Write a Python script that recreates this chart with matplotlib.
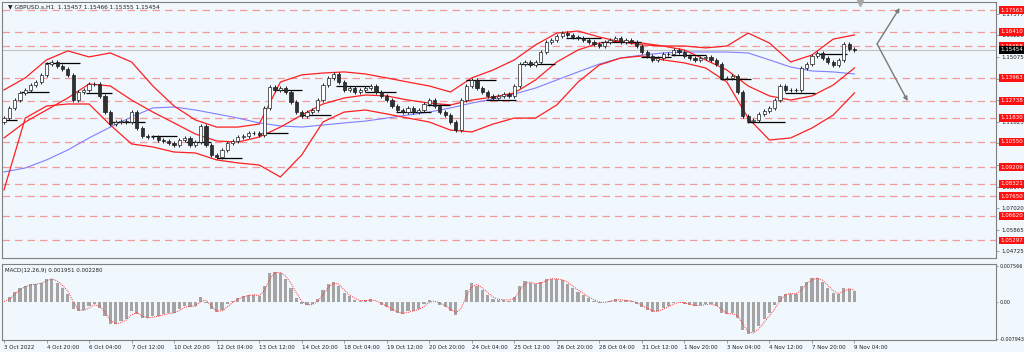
import numpy as np
import pandas as pd
import matplotlib
matplotlib.use("Agg")
import matplotlib.pyplot as plt
import matplotlib.transforms as mtransforms

plt.rcParams['font.family'] = ['DejaVu Sans']

# ---------------- data ----------------
symbol_title = "\u25bc GBPUSD.s,H1  1.15457 1.15466 1.15355 1.15454"
macd_title = "MACD(12,26,9) 0.001951 0.002280"

# 4-hour sampled closes (bar k sits at hour index 4*k)
closes = [
    1.1182, 1.1236, 1.1278, 1.1316, 1.1332, 1.1358, 1.1374, 1.1412, 1.1470, 1.1481,
    1.1460, 1.1444, 1.1412, 1.1278, 1.1321, 1.1332, 1.1364, 1.1364, 1.1300, 1.1214,
    1.1150, 1.1161, 1.1166, 1.1161, 1.1214, 1.1129, 1.1086, 1.1081, 1.1081, 1.1065,
    1.1060, 1.1049, 1.1038, 1.1065, 1.1076, 1.1038, 1.1054, 1.1140, 1.1038, 1.0985,
    1.0974, 1.1012, 1.1049, 1.1060, 1.1081, 1.1086, 1.1102, 1.1102, 1.1092, 1.1236,
    1.1348, 1.1332, 1.1342, 1.1321, 1.1268, 1.1214, 1.1193, 1.1214, 1.1225, 1.1278,
    1.1358, 1.1396, 1.1417, 1.1374, 1.1332, 1.1342, 1.1321, 1.1332, 1.1342, 1.1353,
    1.1321, 1.1300, 1.1278, 1.1246, 1.1225, 1.1214, 1.1236, 1.1214, 1.1225, 1.1257,
    1.1278, 1.1246, 1.1214, 1.1198, 1.1161, 1.1118, 1.1278, 1.1353, 1.1385, 1.1342,
    1.1321, 1.1300, 1.1289, 1.1300, 1.1310, 1.1300, 1.1353, 1.1470, 1.1481, 1.1465,
    1.1481, 1.1534, 1.1588, 1.1598, 1.1619, 1.1635, 1.1625, 1.1614, 1.1609, 1.1598,
    1.1588, 1.1577, 1.1566, 1.1588, 1.1598, 1.1609, 1.1588, 1.1598, 1.1588, 1.1566,
    1.1534, 1.1513, 1.1492, 1.1502, 1.1524, 1.1524, 1.1545, 1.1534, 1.1513, 1.1502,
    1.1492, 1.1502, 1.1508, 1.1492, 1.1470, 1.1396, 1.1396, 1.1406, 1.1321, 1.1193,
    1.1166, 1.1172, 1.1204, 1.1220, 1.1236, 1.1278, 1.1353, 1.1332, 1.1332, 1.1332,
    1.1449, 1.1470, 1.1513, 1.1529, 1.1502, 1.1481, 1.1465, 1.1492, 1.1577, 1.1550,
    1.1545,
]
first_open = 1.1160

band_hours = list(range(0, 641, 16))
upper_band = [
    1.1332, 1.1396, 1.1492, 1.1540, 1.1508, 1.1529, 1.1481, 1.1353, 1.1246, 1.1172,
    1.1134, 1.1134, 1.1150, 1.1374, 1.1412, 1.1422, 1.1428, 1.1417, 1.1396, 1.1374,
    1.1353, 1.1321, 1.1396, 1.1438, 1.1492, 1.1572, 1.1635, 1.1646, 1.1614, 1.1588,
    1.1572, 1.1566, 1.1566, 1.1556, 1.1566, 1.1635, 1.1582, 1.1481, 1.1518, 1.1603,
    1.1625,
]
middle_line = [
    1.1076, 1.1161, 1.1225, 1.1289, 1.1364, 1.1353, 1.1278, 1.1214, 1.1156, 1.1097,
    1.1060, 1.1054, 1.1081, 1.1134, 1.1198, 1.1257, 1.1289, 1.1305, 1.1300, 1.1278,
    1.1262, 1.1252, 1.1278, 1.1294, 1.1316, 1.1385, 1.1481, 1.1545, 1.1582, 1.1593,
    1.1582, 1.1566, 1.1545, 1.1492, 1.1438, 1.1353, 1.1300, 1.1278, 1.1300, 1.1358,
    1.1449,
]
lower_band = [
    1.0799, 1.1182, 1.1246, 1.1257, 1.1257, 1.1145, 1.1044, 1.1028, 1.1001, 1.0996,
    1.0959, 1.0943, 1.0932, 1.0868, 1.0985, 1.1161, 1.1214, 1.1225, 1.1204, 1.1182,
    1.1161, 1.1118, 1.1108, 1.1150, 1.1182, 1.1182, 1.1252, 1.1374, 1.1465, 1.1502,
    1.1513, 1.1492, 1.1476, 1.1449, 1.1374, 1.1182, 1.1065, 1.1076, 1.1129, 1.1198,
    1.1316,
]
slow_ma = [
    1.0895, 1.0916, 1.0959, 1.1012, 1.1076, 1.1134, 1.1188, 1.1236, 1.1241, 1.1225,
    1.1204, 1.1182, 1.1156, 1.1140, 1.1134, 1.1145, 1.1156, 1.1166, 1.1182, 1.1198,
    1.1214, 1.1236, 1.1262, 1.1284, 1.1310, 1.1342, 1.1385, 1.1428, 1.1470, 1.1502,
    1.1518, 1.1529, 1.1534, 1.1534, 1.1534, 1.1529, 1.1492, 1.1454, 1.1433, 1.1428,
    1.1417,
]

# short horizontal black level segments: (start hour, end hour, price)
seg_start = [-1, 13, 31, 62, 81, 111, 137, 160, 194, 203, 224, 250, 272, 295, 318,
             348, 363, 389, 423, 449, 479, 502, 539, 559, 588, 610]
seg_end = [10, 34, 57, 81, 106, 130, 156, 179, 214, 224, 246, 276, 295, 321, 336,
           370, 385, 415, 449, 479, 502, 528, 562, 588, 610, 634]
seg_price = [1.1172, 1.1321, 1.1476, 1.1316, 1.1161, 1.1086, 1.1054, 1.0969, 1.1102,
             1.1332, 1.1198, 1.1353, 1.1321, 1.1214, 1.1252, 1.1385, 1.1278, 1.1470,
             1.1609, 1.1588, 1.1508, 1.1518, 1.1390, 1.1161, 1.1316, 1.1524]

# red dashed levels
red_levels = [1.17563, 1.16410, 1.15658, 1.13963, 1.12738, 1.11830, 1.10550,
              1.09209, 1.08321, 1.07650, 1.06620, 1.05297]
bid_price = 1.15454

price_ticks = [1.17377, 1.16226, 1.15075, 1.13924, 1.12774, 1.11623, 1.10473,
               1.09322, 1.08171, 1.07020, 1.05865, 1.04725]
macd_ticks = [0.007566, 0.0, -0.007943]
macd_tick_labels = ["0.007566", "0.00", "-0.007943"]

time_labels = ["3 Oct 2022", "4 Oct 20:00", "6 Oct 04:00", "7 Oct 12:00", "10 Oct 20:00",
               "12 Oct 04:00", "13 Oct 12:00", "14 Oct 20:00", "18 Oct 04:00",
               "19 Oct 12:00", "20 Oct 20:00", "24 Oct 04:00", "25 Oct 12:00",
               "26 Oct 20:00", "28 Oct 04:00", "31 Oct 12:00", "1 Nov 20:00",
               "3 Nov 04:00", "4 Nov 12:00", "7 Nov 20:00", "9 Nov 04:00"]
time_tick_hours = [32 * i for i in range(len(time_labels))]

# projection arrows (hour, price)
arrow_origin = (657, 1.1577)
arrow_targets = [(674, 1.1769), (680, 1.1273)]
shift_marker_hour = 644

# ---------------- figure ----------------
BG = '#f0f7fd'
fig = plt.figure(figsize=(10.24, 3.52), dpi=100, facecolor=BG)
W, H = 1024.0, 352.0
ax = fig.add_axes([2 / W, 1 - 258 / H, (996 - 2) / W, (258 - 2) / H])
ax2 = fig.add_axes([2 / W, 1 - 340 / H, (996 - 2) / W, (340 - 264) / H])
for a in (ax, ax2):
    a.set_facecolor(BG)
    for s in a.spines.values():
        s.set_color('#808080')
        s.set_linewidth(0.8)

xlim = (-1.5, 746.5)
ax.set_xlim(*xlim)
ax2.set_xlim(*xlim)
ax.set_ylim(1.04362, 1.18006)

# red dashed levels
for lv in red_levels:
    ax.axhline(lv, color='#f39a9a', lw=0.9, ls=(0, (6, 4)), zorder=1)
ax.axhline(bid_price, color='#c4c4c4', lw=0.8, zorder=1)

# indicator lines
ax.plot(band_hours, slow_ma, color='#8080ff', lw=0.8, zorder=2)
ax.plot(band_hours, upper_band, color='#ff2020', lw=0.9, zorder=2)
ax.plot(band_hours, middle_line, color='#ff2020', lw=0.9, zorder=2)
ax.plot(band_hours, lower_band, color='#ff2020', lw=0.9, zorder=2)

# level segments
ax.hlines(seg_price, seg_start, seg_end, color='black', lw=0.9, zorder=3)

# candles
closes_a = np.array(closes)
opens_a = np.concatenate([[first_open], closes_a[:-1]])
xs = np.arange(len(closes_a)) * 4
hi = np.maximum(opens_a, closes_a) + 0.0009
lo = np.minimum(opens_a, closes_a) - 0.0009
ax.vlines(xs, lo, hi, color='#202020', lw=0.7, zorder=4)
bull = closes_a >= opens_a
body_bottom = np.minimum(opens_a, closes_a)
body_h = np.maximum(np.abs(closes_a - opens_a), 0.00015)
ax.bar(xs, body_h, bottom=body_bottom, width=2.4,
       color=np.where(bull, 'white', '#303030'), edgecolor='#202020',
       linewidth=0.5, zorder=5)

# arrows
for tx, ty in arrow_targets:
    ax.annotate('', xy=(tx, ty), xytext=arrow_origin,
                arrowprops=dict(arrowstyle='-|>', color='#7a7a7a', lw=1.0,
                                mutation_scale=6, shrinkA=0, shrinkB=0), zorder=6)
ax.plot([shift_marker_hour], [1.1797], marker='v', color='#a8a8a8', ms=4,
        clip_on=False, zorder=7)

# right price axis
ax.yaxis.tick_right()
ax.set_yticks(price_ticks)
ax.set_yticklabels([f"{v:.5f}" for v in price_ticks])
ax.tick_params(axis='y', direction='out', length=2, width=0.5, colors='#808080',
               labelsize=4, labelcolor='#202020', pad=2)
ax.set_xticks([])
trans = mtransforms.blended_transform_factory(ax.transAxes, ax.transData)
for lv in red_levels:
    ax.text(1.004, lv, f"{lv:.5f}", transform=trans, fontsize=4, color='white',
            ha='left', va='center', clip_on=False, zorder=10,
            bbox=dict(boxstyle='square,pad=0.25', fc='#ff1010', ec='none'))
ax.text(1.004, bid_price, f"{bid_price:.5f}", transform=trans, fontsize=4,
        color='white', ha='left', va='center', clip_on=False, zorder=11,
        bbox=dict(boxstyle='square,pad=0.25', fc='black', ec='none'))

ax.text(0.006, 0.992, symbol_title, transform=ax.transAxes, fontsize=4.2,
        color='#202020', ha='left', va='top')

# ---------------- MACD ----------------
s = pd.Series(closes_a)
fast = s.ewm(com=5.5 / 4, adjust=False).mean()
slow = s.ewm(com=12.5 / 4, adjust=False).mean()
macd = (fast - slow).values
signal = pd.Series(macd).rolling(2, min_periods=1).mean().values

ax2.set_ylim(-0.0082, 0.0080)
ax2.bar(xs, macd, width=2.4, color='#a4a4a4', edgecolor='none', zorder=2)
ax2.plot(xs, signal, color='#ff3030', lw=0.7, ls=(0, (1, 1.2)), zorder=3)
ax2.yaxis.tick_right()
ax2.set_yticks(macd_ticks)
ax2.set_yticklabels(macd_tick_labels)
ax2.tick_params(axis='y', direction='out', length=1.5, width=0.5, colors='#808080',
                labelsize=3.5, labelcolor='#202020', pad=1)
ax2.set_xticks(time_tick_hours)
ax2.set_xticklabels(time_labels, ha='left')
ax2.tick_params(axis='x', direction='out', length=2, width=0.5, colors='#808080',
                labelsize=4, labelcolor='#202020', pad=1.5)
ax2.text(0.003, 0.95, macd_title, transform=ax2.transAxes, fontsize=4,
         color='#202020', ha='left', va='top')

fig.savefig('out.png', dpi=100, facecolor=BG)
